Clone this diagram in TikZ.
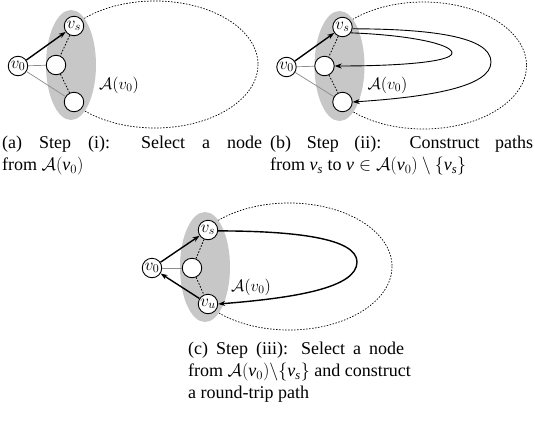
\RequirePackage{fix-cm}
\documentclass[tikz,border=0pt]{standalone}
\usepackage{amsmath}
\usepackage{fontspec}
\setmainfont{Liberation Serif}
\usetikzlibrary{arrows.meta}
\newcommand\tv[1]{\textit{#1}}
\begin{document}
\begin{tikzpicture}[x=1pt,y=-1pt,
  vtx/.style={circle, draw, line width=0.9pt, fill=white, minimum size=19.5pt, inner sep=0pt, font=\fontsize{17}{17}\selectfont},
  grayreg/.style={fill=black!22},
  dotl/.style={line width=0.8pt, dash pattern=on 1.6pt off 1.6pt},
  dotell/.style={line width=0.7pt, dash pattern=on 1.5pt off 1.5pt},
  thinl/.style={draw=black!45, line width=0.7pt},
  arr/.style={line width=1.4pt, -{Stealth[length=7pt,width=5pt]}},
  routethin/.style={line width=0.9pt, -{Stealth[length=7pt,width=5pt]}},
  routethick/.style={line width=1.4pt, -{Stealth[length=7pt,width=5pt]}},
  lbl/.style={font=\fontsize{16.5}{16.5}\selectfont, inner sep=0pt},
  capbox/.style={font=\fontsize{18}{22}\selectfont, align=justify, inner sep=0pt, anchor=north west}]
\useasboundingbox (0,0) rectangle (535,421);

% ---------- panel (a)
\begin{scope}
\draw[dotell] (155,64.5) ellipse [x radius=103, y radius=63.5];
\fill[grayreg] (71,65) ellipse [x radius=25, y radius=55];
\node[vtx] (a0) at (18,66) {$v_0$};
\node[vtx] (as) at (74,26) {$v_s$};
\node[vtx] (am) at (56,65) {};
\node[vtx] (ab) at (74,102) {};
\node[lbl, anchor=west] (aA) at (99,85) {$\mathcal{A}(v_0)$};
\draw[thinl] (a0) -- (am);
\draw[thinl] (a0) -- (ab);
\draw[dotl] (as) -- (am) -- (ab);
\draw[arr] (a0) -- (as);
\end{scope}

% ---------- panel (b)
\begin{scope}[shift={(268.5,1)}]
\draw[dotell] (155,64.5) ellipse [x radius=103, y radius=63.5];
\fill[grayreg] (71,65) ellipse [x radius=25, y radius=55];
\node[vtx] (b0) at (18,66) {$v_0$};
\node[vtx] (bs) at (74,26) {$v_s$};
\node[vtx] (bm) at (56,65) {};
\node[vtx] (bb) at (74,101) {};
\node[lbl, anchor=west] (bA) at (99,84) {$\mathcal{A}(v_0)$};
\draw[thinl] (b0) -- (bm);
\draw[thinl] (b0) -- (bb);
\draw[dotl] (bs) -- (bm) -- (bb);
\draw[arr] (b0) -- (bs);
\draw[routethin] (bs.-10) .. controls (160,28) and (222.5,35) .. (222.5,61)
   .. controls (222.5,86) and (160,96) .. (bb.east);
\draw[routethin] (bs.-35) .. controls (140,34) and (183.5,43) .. (183.5,52)
   .. controls (183.5,61) and (130,65) .. (bm.east);
\end{scope}

% ---------- panel (c)
\begin{scope}[shift={(134,202)}]
\draw[dotell] (155,64.5) ellipse [x radius=103, y radius=63.5];
\fill[grayreg] (71,65) ellipse [x radius=25, y radius=55];
\node[vtx] (c0) at (18,66) {$v_0$};
\node[vtx] (cs) at (74,28) {$v_s$};
\node[vtx] (cm) at (58,66) {};
\node[vtx] (cb) at (74,102) {$v_u$};
\node[lbl, anchor=west] (cA) at (97,85) {$\mathcal{A}(v_0)$};
\draw[thinl] (c0) -- (cm);
\draw[dotl] (cs) -- (cm) -- (cb);
\draw[arr] (c0) -- (cs);
\draw[arr] (cb) -- (c0);
\draw[routethick] (cs.-5) .. controls (160,29) and (223,36) .. (223,60)
   .. controls (223,86) and (160,96) .. (cb.east);
\end{scope}

% ---------- captions
\node[capbox, text width=260pt] (capa) at (2,136)
  {(a) Step (i): Select a node\linebreak from $\mathcal{A}(\tv{v}_0)$};
\node[capbox, text width=263pt] (capb) at (270,136)
  {(b) Step (ii): Construct paths\linebreak from $\tv{v}_{\tv{s}}$ to $\tv{v}\in\mathcal{A}(\tv{v}_0)\setminus\{\tv{v}_{\tv{s}}\}$};
\node[capbox, text width=216pt] (capc) at (188,342)
  {(c) Step (iii): Select a node\linebreak
   \mbox{from $\mathcal{A}(\tv{v}_0)\backslash\{\tv{v}_{\tv{s}}\}$ and construct}\linebreak
   a round-trip path};
\end{tikzpicture}
\end{document}
